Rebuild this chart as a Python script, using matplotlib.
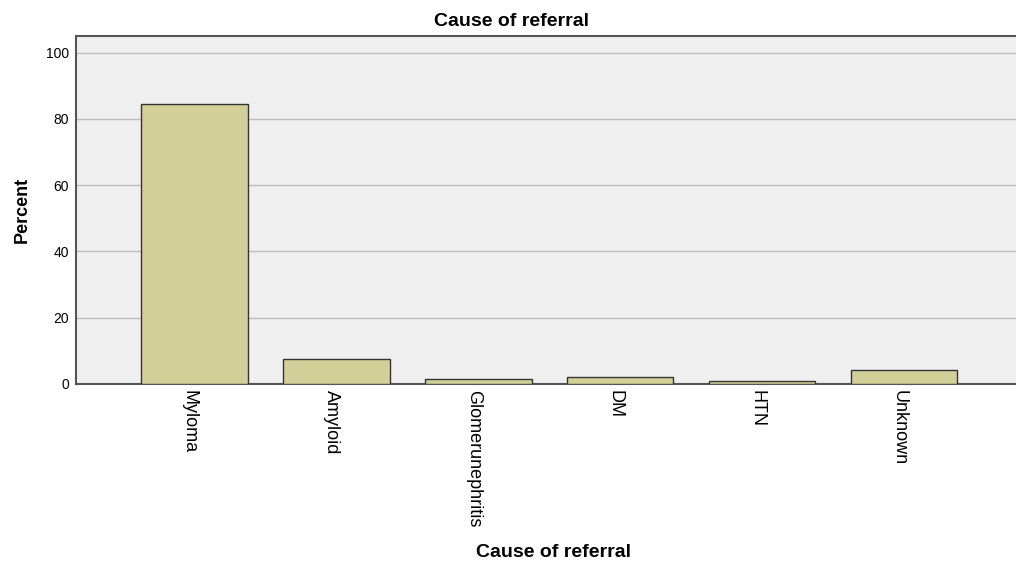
import matplotlib
matplotlib.use('Agg')
import matplotlib.pyplot as plt
import matplotlib.transforms as mtransforms
import numpy as np

plt.rcParams['font.family'] = ['Liberation Sans', 'DejaVu Sans']

categories = ['Myloma', 'Amyloid', 'Glomerunephritis', 'DM', 'HTN', 'Unknown']
percent = [84.6, 7.5, 1.5, 2.2, 0.8, 4.2]
yticks = [0, 20, 40, 60, 80, 100]

fig = plt.figure(figsize=(10.16, 5.63), dpi=100)
ax = fig.add_axes([0.0748, 0.318, 0.9316, 0.618])
ax.set_facecolor('#efefef')

x = np.arange(len(categories))
ax.bar(x, percent, width=0.75, color='#d3cf98', edgecolor='#333333', linewidth=1.0, zorder=3)

ax.set_xlim(-0.835, 5.835)
ax.set_ylim(0, 105)
ax.set_yticks(yticks)
ax.set_yticklabels([str(v) for v in yticks], fontsize=10)
ax.yaxis.grid(True, color='#bdbdbd', linewidth=1.0, zorder=0)
ax.set_xticks(x)
ax.set_xticklabels(categories, rotation=-90, fontsize=13, va='top', ha='center')
ax.tick_params(axis='x', length=0, pad=4)
ax.tick_params(axis='y', length=0, pad=5)

# nudge rotated labels slightly left
offset = mtransforms.ScaledTranslation(-5 / 100, 0, fig.dpi_scale_trans)
for lbl in ax.get_xticklabels():
    lbl.set_transform(lbl.get_transform() + offset)

for s in ['left', 'bottom', 'top']:
    ax.spines[s].set_color('#555555')
    ax.spines[s].set_linewidth(1.5)
ax.spines['right'].set_visible(False)

fig.text(0.503, 0.962, 'Cause of referral', fontsize=14, fontweight='bold', ha='center', va='center')
ax.set_ylabel('Percent', fontsize=13, fontweight='bold', labelpad=11)
fig.text(0.545, 0.018, 'Cause of referral', fontsize=14, fontweight='bold', ha='center', va='center')

fig.savefig('out.png', dpi=100)
